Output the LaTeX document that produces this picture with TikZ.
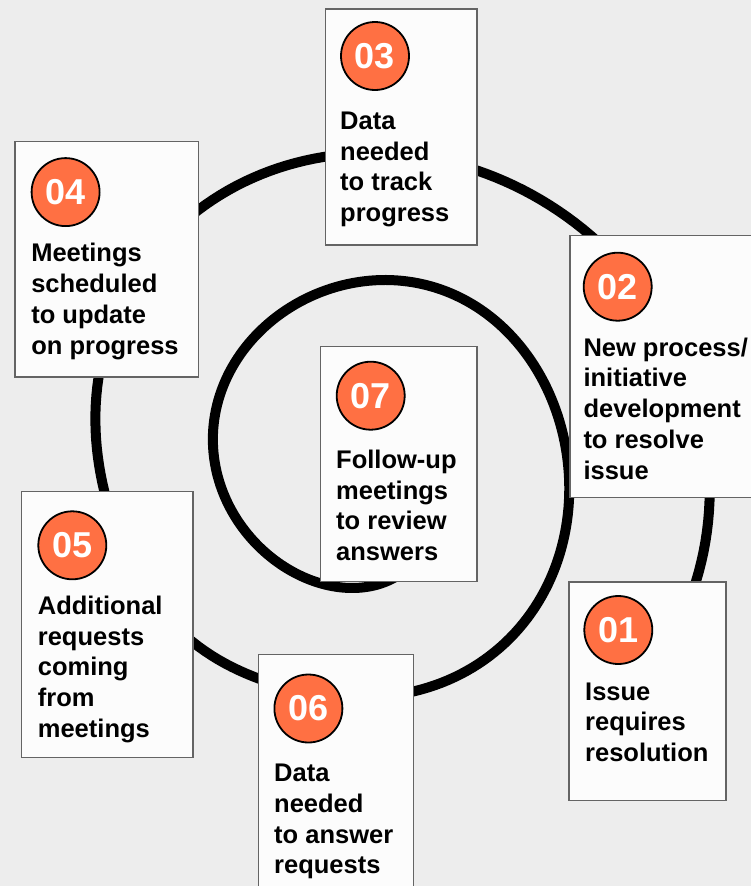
\documentclass[tikz,border=0pt]{standalone}
\usepackage{fontspec}
\setmainfont{Liberation Sans}
\definecolor{bg}{RGB}{237,237,237}
\definecolor{numorange}{RGB}{255,112,67}
\definecolor{boxborder}{RGB}{100,100,100}
\begin{document}
\begin{tikzpicture}[x=1pt,y=-1pt,
  stepbox/.style={draw=boxborder, line width=1.3pt, fill=white!99!black, inner sep=0pt, anchor=north west},
  numcirc/.style={circle, draw=black, line width=1.8pt, fill=numorange, minimum size=68pt, inner sep=0pt, text=white, font=\fontsize{36}{36}\selectfont\bfseries},
  desc/.style={anchor=base west, inner sep=0pt, font=\fontsize{25.5}{30.8}\selectfont\bfseries},
  spiral/.style={line width=10pt, line cap=round, line join=round}]
\useasboundingbox (0,0) rectangle (751,886);
\fill[bg] (0,0) rectangle (751,886);
\clip (0,0) rectangle (751,886);

% spiral (outer loop from 01 round to the inner loop ending under 07)
\draw[spiral] plot[variable=\t, domain=40:-680, samples=400]
  ({373.25 + 5.75*\t/180 + (335.75 + 64.25*\t/180)*cos(\t) - 24*exp(-1*pow((2.5+\t/180)/0.6,2))*sin(\t)},
   {450 - 4.5*\t/180 + (328.75 + 59*\t/180)*sin(\t) + 18*cos(\t) + 13*exp(-1*pow((1.22+\t/180)/0.15,2))});

% boxes
\node[stepbox, minimum width=157pt, minimum height=218.7pt] (b1) at (568.3,581.3) {};
\node[stepbox, minimum width=190pt, minimum height=262pt] (b2) at (569.3,234.7) {};
\node[stepbox, minimum width=151.3pt, minimum height=236pt] (b3) at (325,8.3) {};
\node[stepbox, minimum width=183.4pt, minimum height=235.6pt] (b4) at (14.4,140.7) {};
\node[stepbox, minimum width=171.6pt, minimum height=265.7pt] (b5) at (20.7,491) {};
\node[stepbox, minimum width=155.3pt, minimum height=245pt] (b6) at (257.6,654) {};
\node[stepbox, minimum width=156.3pt, minimum height=235.3pt] (b7) at (320,345.7) {};

% number circles
\node[numcirc] (c1) at (618.3,630) {01};
\node[numcirc] (c2) at (617.7,286.7) {02};
\node[numcirc] (c3) at (375,56) {03};
\node[numcirc] (c4) at (65.6,192.1) {04};
\node[numcirc] (c5) at (72.3,545.3) {05};
\node[numcirc] (c6) at (308.4,708.5) {06};
\node[numcirc] (c7) at (370.7,395.7) {07};

% texts
\node[desc] (t1) at (585,700) {\begin{tabular}[t]{@{}l@{}}Issue\\requires\\resolution\end{tabular}};
\node[desc] (t2) at (583.3,356) {\begin{tabular}[t]{@{}l@{}}New process/\\initiative\\development\\to resolve\\issue\end{tabular}};
\node[desc] (t3) at (340,129.3) {\begin{tabular}[t]{@{}l@{}}Data\\needed\\to track\\progress\end{tabular}};
\node[desc] (t4) at (31.1,261.6) {\begin{tabular}[t]{@{}l@{}}Meetings\\scheduled\\to update\\on progress\end{tabular}};
\node[desc] (t5) at (37.7,614.3) {\begin{tabular}[t]{@{}l@{}}Additional\\requests\\coming\\from\\meetings\end{tabular}};
\node[desc] (t6) at (274,781.5) {\begin{tabular}[t]{@{}l@{}}Data\\needed\\to answer\\requests\end{tabular}};
\node[desc] (t7) at (336,468.3) {\begin{tabular}[t]{@{}l@{}}Follow-up\\meetings\\to review\\answers\end{tabular}};
\end{tikzpicture}
\end{document}
